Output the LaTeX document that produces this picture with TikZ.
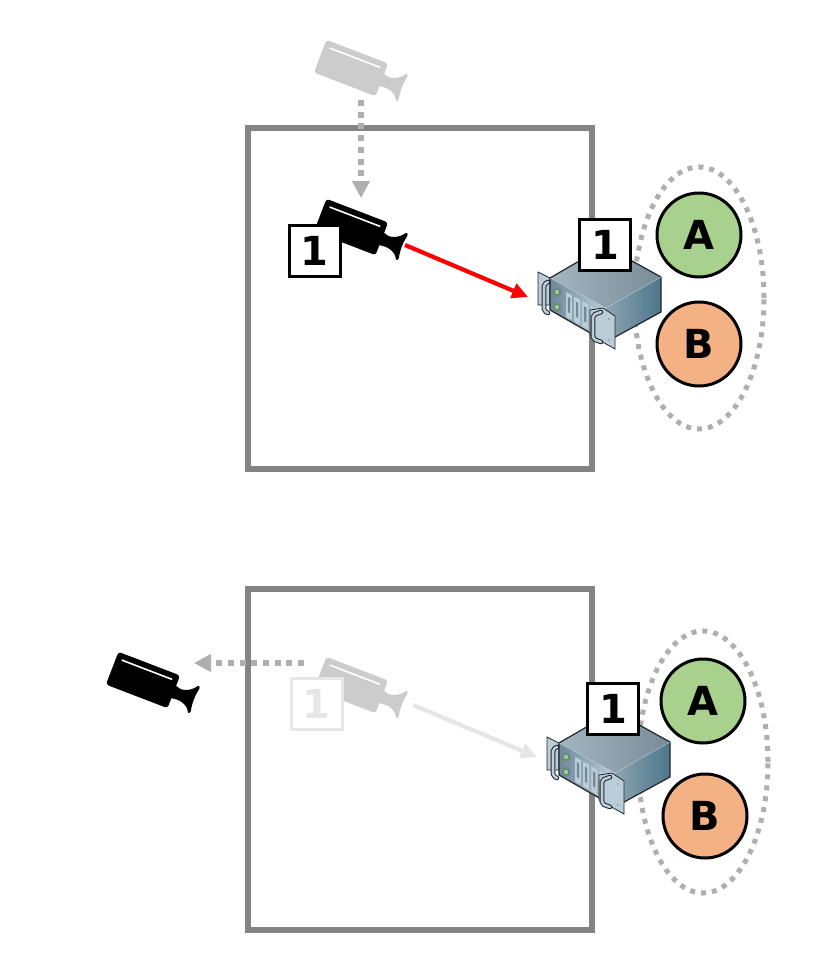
\documentclass[tikz,border=0pt]{standalone}
\usepackage{fontspec}
\setmainfont{DejaVu Sans}
\usepackage{tikz}
\usetikzlibrary{positioning,shapes.geometric,arrows.meta}

\definecolor{wallgray}{HTML}{848484}
\definecolor{dashgray}{HTML}{B0AEAE}
\definecolor{fadegray}{HTML}{CCCCCC}
\definecolor{palegray}{HTML}{E6E6E6}
\definecolor{groupa}{HTML}{A9D18E}
\definecolor{groupb}{HTML}{F4B183}
\definecolor{caseline}{HTML}{1F262B}
\definecolor{casepale}{HTML}{BBCDD8}
\definecolor{casemid}{HTML}{8DA4B1}
\definecolor{casedeep}{HTML}{4C768B}
\definecolor{casedim}{HTML}{6F8998}
\definecolor{lamp}{HTML}{94CF8C}

\tikzset{
	room/.style={draw=wallgray, line width=6pt, minimum width=344pt, minimum height=341pt, inner sep=0pt},
	replica/.style={draw, circle, line width=3pt, minimum size=84pt, inner sep=0pt, font=\fontsize{40}{40}\selectfont\bfseries},
	cluster/.style={draw=dashgray, ellipse, line width=5pt, dash pattern=on 5pt off 6pt, minimum width=130pt, minimum height=262pt, inner sep=0pt},
	idbox/.style={draw, fill=white, line width=3pt, minimum size=51pt, inner sep=0pt, font=\fontsize{40}{40}\selectfont\bfseries},
	dotarrow/.style={draw=dashgray, line width=5.5pt, dash pattern=on 6pt off 5.7pt, -{Triangle[length=17pt,width=17pt]}},
	handle/.style={draw=caseline, line width=4.6pt, line cap=round, rounded corners=2pt},
	handlefill/.style={draw=casepale, line width=2.6pt, line cap=round, rounded corners=2pt},
	pics/camera/.style={code={
		\fill[#1, rounded corners=3pt] (-33,-17.5) rectangle (33,17.5);
		\draw[white, line width=1.6pt] (-27,-11) -- (27,-11);
		\fill[#1, rounded corners=1pt] (32,-7) .. controls (39,-3) and (48,-6) .. (54,-15) -- (56,-13)
			.. controls (54,-4) and (54,4) .. (56,13) -- (54,15) .. controls (50,7) and (42,5) .. (32,7) -- cycle;
	}},
	pics/server/.style={code={
		% Flange behind
		\fill[casepale, draw=caseline, line width=0.8pt] (-68,-36) -- (-56,-30) -- (-56,-3) -- (-68,-3) -- cycle;
		% Case
		\shade[left color=casemid!80!white, right color=casemid!85!black] (-56,-30) -- (-1,-62) -- (55,-31) -- (0,0) -- cycle;
		\shade[left color=casemid, right color=casedeep] (0,0) -- (55,-31) -- (55,4) -- (0,34) -- cycle;
		\shade[left color=casedim, right color=casepale] (-56,-30) -- (0,0) -- (0,34) -- (-56,2) -- cycle;
		\draw[caseline, line width=1.2pt, line join=round] (-56,-30) -- (-1,-62) -- (55,-31) -- (55,4) -- (0,34) -- (-56,2) -- cycle;
		\draw[casemid!60!white, line width=0.4pt] (-56,-30) -- (0,0) -- (55,-31);
		% Lights
		\fill[casedim] (-49,-16) circle (5);
		\fill[casedim] (-49,-1) circle (5);
		\fill[lamp, draw=caseline!60!lamp, line width=0.4pt] (-49,-16) circle (2.8);
		\fill[lamp, draw=caseline!60!lamp, line width=0.4pt] (-49,-1) circle (2.8);
		% Drive slots
		\foreach \slot in {0,1,2,3} {
			\fill[casepale] ({-40+8.2*\slot},{-16+4.7*\slot}) -- ++(5.8,3) -- ++(0,25) -- ++(-5.8,-3) -- cycle;
			\fill[casedim] ({-38.2+8.2*\slot},{-11+4.7*\slot}) -- ++(2.2,1.2) -- ++(0,15) -- ++(-2.2,-1.2) -- cycle;
		}
		% Flanges
		\fill[casepale, draw=caseline, line width=0.8pt] (-16,2) -- (-3,0) -- (9,8) -- (9,41) -- (-16,27) -- cycle;
		\fill[casemid] (3,11) circle (1.1);
		\fill[casemid] (3,32) circle (1.1);
		\draw[handle] (-5,4) -- (-13,7) -- (-13,31) -- (-5,34);
		\draw[handlefill] (-5,4) -- (-13,7) -- (-13,31) -- (-5,34);
		\draw[handle] (-58,-26) -- (-62,-24) -- (-62,3) -- (-58,5);
		\draw[handlefill] (-58,-26) -- (-62,-24) -- (-62,3) -- (-58,5);
	}},
}

\begin{document}
\begin{tikzpicture}[x=1pt, y=-1pt]

\useasboundingbox (0, 0) rectangle (830, 974);

% Top room
\node [room] (room_top) at (420, 298.5) {};

% Top group
\node [cluster] (cluster_top) at (699, 298) {};
\node [replica, fill=groupa] (replica_a_top) at (699, 235) {A};
\node [replica, fill=groupb] (replica_b_top) at (699, 344) {B};

% Top server
\pic at (606, 308) {server};
\node [idbox] (server_id_top) at (605, 244.5) {1};

% Top cameras
\pic [rotate=-21] at (351, 68) {camera=fadegray};
\pic [rotate=-21] at (351, 227) {camera=black};
\node [idbox] (camera_id_top) at (314.5, 251) {1};

% Top arrows
\coordinate (moved_from_top) at (361, 100);
\coordinate (moved_to_top) at (361, 198);
\coordinate (camera_out_top) at (405, 245);
\coordinate (server_in_top) at (528, 297);
\draw [dotarrow] (moved_from_top) -- (moved_to_top);
\draw [red, line width=4.2pt, -{Triangle[length=16pt,width=15pt]}] (camera_out_top) -- (server_in_top);

% Bottom room
\node [room] (room_bottom) at (420, 759) {};

% Bottom group
\node [cluster] (cluster_bottom) at (703, 762) {};
\node [replica, fill=groupa] (replica_a_bottom) at (703, 701) {A};
\node [replica, fill=groupb] (replica_b_bottom) at (705, 816) {B};

% Bottom server
\pic at (615, 773) {server};
\node [idbox] (server_id_bottom) at (613, 709) {1};

% Bottom cameras
\pic [rotate=-21] at (351, 685) {camera=fadegray};
\pic [rotate=-21] at (143, 680) {camera=black};
\node [idbox, draw=palegray, text=palegray, fill=white] (camera_id_bottom) at (316.5, 704) {1};

% Bottom arrows
\coordinate (moved_from_bottom) at (304, 663);
\coordinate (moved_to_bottom) at (194, 663);
\coordinate (camera_out_bottom) at (413, 705);
\coordinate (server_in_bottom) at (537, 757);
\draw [dotarrow] (moved_from_bottom) -- (moved_to_bottom);
\draw [palegray, line width=4.2pt, -{Triangle[length=16pt,width=15pt]}] (camera_out_bottom) -- (server_in_bottom);

\end{tikzpicture}
\end{document}
